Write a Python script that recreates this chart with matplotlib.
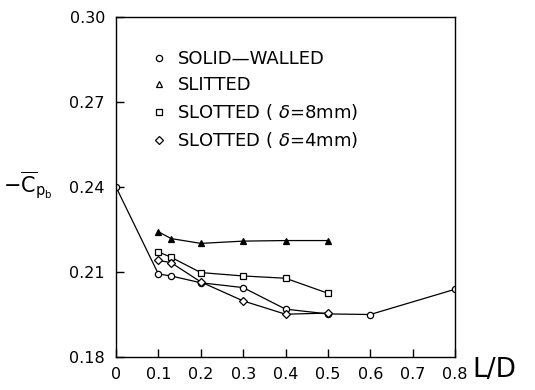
import matplotlib
matplotlib.use("Agg")
import matplotlib.pyplot as plt
from matplotlib.lines import Line2D

plt.rcParams['font.family'] = ['DejaVu Sans']
plt.rcParams['mathtext.fontset'] = 'dejavusans'

solid_x = [0.0, 0.1, 0.13, 0.2, 0.3, 0.4, 0.5, 0.6, 0.8]
solid_y = [0.2400, 0.2093, 0.2086, 0.2062, 0.2045, 0.1969, 0.1952, 0.1950, 0.2039]

slit_x = [0.1, 0.13, 0.2, 0.3, 0.4, 0.5]
slit_y = [0.2242, 0.2218, 0.2201, 0.2209, 0.2211, 0.2211]

slot8_x = [0.1, 0.13, 0.2, 0.3, 0.4, 0.5]
slot8_y = [0.2171, 0.2152, 0.2098, 0.2086, 0.2078, 0.2025]

slot4_x = [0.1, 0.13, 0.2, 0.3, 0.4, 0.5]
slot4_y = [0.2141, 0.2133, 0.2065, 0.1998, 0.1951, 0.1955]

labels = ["SOLID\u2014WALLED", "SLITTED", "SLOTTED ( $\\delta$=8mm)", "SLOTTED ( $\\delta$=4mm)"]
xticks = [0, 0.1, 0.2, 0.3, 0.4, 0.5, 0.6, 0.7, 0.8]
xticklabels = ["0", "0.1", "0.2", "0.3", "0.4", "0.5", "0.6", "0.7", "0.8"]
yticks = [0.18, 0.21, 0.24, 0.27, 0.30]
yticklabels = ["0.18", "0.21", "0.24", "0.27", "0.30"]

fig = plt.figure(figsize=(5.35, 3.9), dpi=100)
ax = fig.add_axes([116/535, 1-357/390, (455-116)/535, (357-17)/390])

ms = 4.5
ax.plot(solid_x, solid_y, color='black', lw=0.9, marker='o', ms=ms, mfc='white', mec='black', mew=0.9)
ax.plot(slit_x, slit_y, color='black', lw=0.9, marker='^', ms=ms, mfc='black', mec='black', mew=0.9)
ax.plot(slot8_x, slot8_y, color='black', lw=0.9, marker='s', ms=ms, mfc='white', mec='black', mew=0.9)
ax.plot(slot4_x, slot4_y, color='black', lw=0.9, marker='D', ms=ms, mfc='white', mec='black', mew=0.9)

ax.set_xlim(0, 0.8)
ax.set_ylim(0.18, 0.30)
ax.set_xticks(xticks)
ax.set_xticklabels(xticklabels)
ax.set_yticks(yticks)
ax.set_yticklabels(yticklabels)
ax.tick_params(direction='in', length=6, width=1, labelsize=11.5, colors='black')
ax.tick_params(axis='x', pad=7)
ax.tick_params(axis='y', pad=8)
for s in ax.spines.values():
    s.set_linewidth(1.0)

handles = [
    Line2D([], [], ls='none', marker='o', ms=4.5, mfc='white', mec='black', mew=0.9),
    Line2D([], [], ls='none', marker='^', ms=4.5, mfc='white', mec='black', mew=0.9),
    Line2D([], [], ls='none', marker='s', ms=4.5, mfc='white', mec='black', mew=0.9),
    Line2D([], [], ls='none', marker='D', ms=4.5, mfc='white', mec='black', mew=0.9),
]
ax.legend(handles, labels, loc='upper left', bbox_to_anchor=(0.08, 0.93), frameon=False,
          fontsize=13, handlelength=0.8, handletextpad=0.6, labelspacing=0.45, borderpad=0)

fig.text(3/535, 1-185/390, r'$-\overline{\mathrm{C}}_{\mathrm{p_b}}$', fontsize=15, va='center', ha='left')
fig.text(472/535, 1-370/390, 'L/D', fontsize=19, va='center', ha='left')

fig.savefig('out.png', dpi=100)
